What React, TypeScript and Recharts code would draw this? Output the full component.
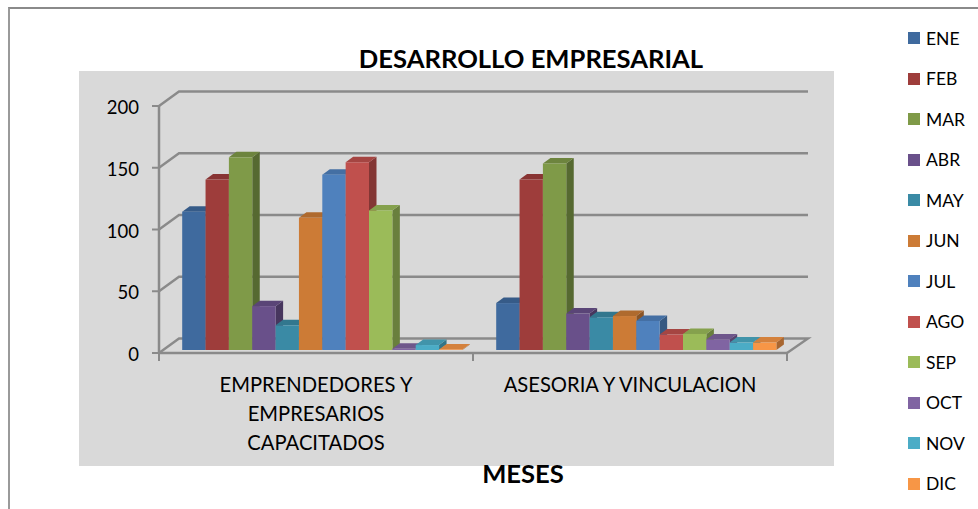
import React from 'react';
import { BarChart, Bar, XAxis, YAxis, CartesianGrid, Legend } from 'recharts';

const categories = ['EMPRENDEDORES Y EMPRESARIOS CAPACITADOS', 'ASESORIA Y VINCULACION'];
const categoryLines = [['EMPRENDEDORES Y', 'EMPRESARIOS', 'CAPACITADOS'], ['ASESORIA Y VINCULACION']];
const months = ['ENE', 'FEB', 'MAR', 'ABR', 'MAY', 'JUN', 'JUL', 'AGO', 'SEP', 'OCT', 'NOV', 'DIC'];
const ene = [112, 38];
const feb = [138, 138];
const mar = [156, 151];
const abr = [35.5, 29.5];
const may = [20, 26.5];
const jun = [107, 27.5];
const jul = [142, 23.5];
const ago = [152, 12.5];
const sep = [113, 13];
const oct = [1, 8.5];
const nov = [4, 6];
const dic = [0.5, 6];
const seriesValues = [ene, feb, mar, abr, may, jun, jul, ago, sep, oct, nov, dic];
const colors = ['#3F6A9E', '#9E3D3B', '#7F9A48', '#69508A', '#3A8AA5', '#CC7B36', '#4F81BD', '#C0504D', '#9BBB59', '#8064A2', '#4BACC6', '#F79646'];
const yTicks = [0, 50, 100, 150, 200];

const rows = categories.map((name, i) => {
  const row: Record<string, string | number> = { name };
  months.forEach((m, k) => { row[m] = seriesValues[k][i]; });
  return row;
});

const FONT = 'Lato, sans-serif';
const GRAY = '#8A8A8A';
const WALL_DX = 20;
const WALL_DY = 14.5;
const BAR_SHIFT_X = 6.2;
const BAR_SHIFT_Y = 3;
const DEPTH_X = 7.5;
const DEPTH_Y = 5.5;

function shade(hex: string, f: number) {
  const n = parseInt(hex.slice(1), 16);
  const c = [(n >> 16) & 255, (n >> 8) & 255, n & 255].map((v) => Math.round(v * f));
  return `rgb(${c[0]},${c[1]},${c[2]})`;
}

function Bar3D(props: any) {
  const { x, y, width, height, fill } = props;
  const l = x + BAR_SHIFT_X;
  const r = l + width;
  const t = y - BAR_SHIFT_Y;
  const b = t + height;
  return (
    <g>
      <polygon points={`${r},${t} ${r + DEPTH_X},${t - DEPTH_Y} ${r + DEPTH_X},${b - DEPTH_Y} ${r},${b}`} fill={shade(fill, 0.68)} />
      <polygon points={`${l},${t} ${l + DEPTH_X},${t - DEPTH_Y} ${r + DEPTH_X},${t - DEPTH_Y} ${r},${t}`} fill={shade(fill, 0.86)} />
      <rect x={l} y={t} width={width} height={height} fill={fill} />
    </g>
  );
}

function WallLine(props: any) {
  const { x1, x2, y1, index } = props;
  const by = y1 - WALL_DY;
  const isFloor = index === 0 || Math.abs(y1 - 353) < 1;
  const pts = `${x1},${y1} ${x1 + WALL_DX},${by} ${x2 + 21},${by}` + (isFloor ? ` ${x2},${y1}` : '');
  return <polyline points={pts} fill="none" stroke={GRAY} strokeWidth={2.4} />;
}

function CategoryTick(props: any) {
  const { x, y, payload, index } = props;
  const half = payload.offset || 157;
  const i0 = payload.index ?? index;
  const lines = categoryLines[i0] || [];
  const top = 353;
  return (
    <g>
      <line x1={x - half} x2={x - half} y1={top} y2={top + 8} stroke={GRAY} strokeWidth={2} />
      {i0 === categories.length - 1 && (
        <line x1={x + half} x2={x + half} y1={top} y2={top + 8} stroke={GRAY} strokeWidth={2} />
      )}
      {lines.map((t: string, i: number) => (
        <text key={t} x={x} y={top + 38.7 + i * 29.3} textAnchor="middle" fontFamily={FONT} fontSize={20.2} fill="#000">{t}</text>
      ))}
    </g>
  );
}

function LegendList(props: any) {
  const { payload } = props;
  return (
    <div>
      {(payload || []).map((e: any) => (
        <div key={e.value} style={{ height: 40.5, display: 'flex', alignItems: 'center', fontFamily: FONT, fontSize: 17.5, color: '#000' }}>
          <span style={{ width: 12, height: 12, background: e.color, marginRight: 6, display: 'inline-block' }} />
          {e.value}
        </div>
      ))}
    </div>
  );
}

export default function App() {
  return (
    <div style={{ position: 'absolute', left: 0, top: 0, width: 978, height: 509, background: '#fff', overflow: 'hidden' }}>
      <div style={{ position: 'absolute', left: 8, top: 7, width: 975, height: 510, borderLeft: '2px solid #9A9A9A', borderTop: '2px solid #8A8A8A' }} />
      <div style={{ position: 'absolute', left: 79, top: 71, width: 755, height: 395, background: '#D9D9D9' }} />
      <div style={{ position: 'absolute', left: 331, width: 400, top: 41, textAlign: 'center', fontFamily: FONT, fontWeight: 700, fontSize: 25.6, lineHeight: '34px' }}>DESARROLLO EMPRESARIAL</div>
      <div style={{ position: 'absolute', left: 423, width: 200, top: 456, textAlign: 'center', fontFamily: FONT, fontWeight: 700, fontSize: 25.6, lineHeight: '34px' }}>MESES</div>
      <div style={{ position: 'absolute', left: 0, top: 0 }}>
        <BarChart
          width={978}
          height={509}
          data={rows}
          margin={{ top: 106, right: 191, bottom: 0, left: 0 }}
          barSize={23.35}
          barGap={0}
        >
          <CartesianGrid vertical={false} horizontal={(p: any) => <WallLine key={p.key ?? p.y1} {...p} />} />
          <XAxis
            dataKey="name"
            height={156}
            interval={0}
            axisLine={{ stroke: GRAY, strokeWidth: 2.5 }}
            tickLine={false}
            tick={(p: any) => <CategoryTick {...p} />}
          />
          <YAxis
            width={159}
            domain={[0, 200]}
            ticks={yTicks}
            axisLine={{ stroke: GRAY, strokeWidth: 2.5 }}
            tickLine={{ stroke: GRAY, strokeWidth: 2 }}
            tickSize={7}
            tickMargin={13}
            tick={{ fontFamily: FONT, fontSize: 18.5, fill: '#000', dy: 1.5 }}
          />
          <Legend
            layout="vertical"
            align="center"
            verticalAlign="middle"
            width={90}
            itemSorter={null}
            content={(p: any) => <LegendList {...p} />}
            wrapperStyle={{ left: 908, top: 18, right: 'auto', bottom: 'auto', margin: 0 }}
          />
          {months.map((m, i) => (
            <Bar key={m} dataKey={m} name={m} fill={colors[i]} shape={(p: any) => <Bar3D {...p} />} isAnimationActive={false} />
          ))}
        </BarChart>
      </div>
    </div>
  );
}
